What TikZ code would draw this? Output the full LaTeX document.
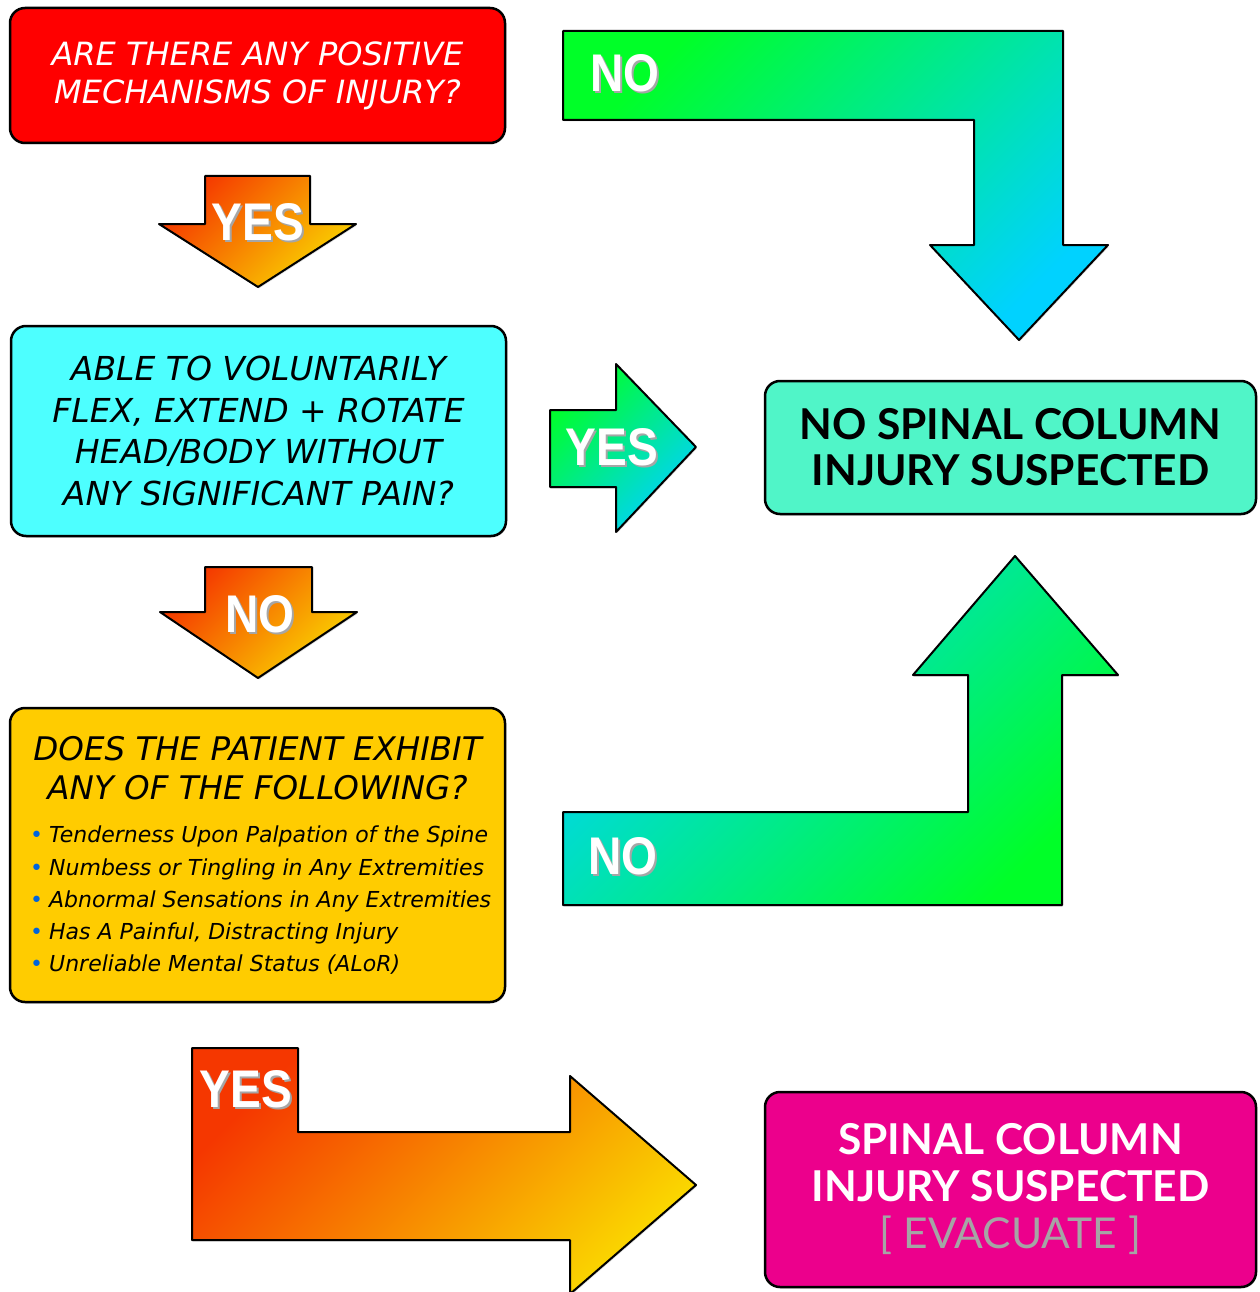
\documentclass[tikz,border=0pt]{standalone}
\usepackage{fontspec}
\usepackage{graphicx}
\setmainfont{DejaVu Sans}
\newfontfamily\outfont{Lato}
\newfontfamily\labelfont{Liberation Sans}
\usetikzlibrary{shadows}

\definecolor{boxred}{RGB}{255,0,0}
\definecolor{boxcyan}{RGB}{77,255,255}
\definecolor{boxyellow}{RGB}{255,204,0}
\definecolor{boxteal}{RGB}{80,245,200}
\definecolor{boxpink}{RGB}{236,0,140}
\definecolor{hotorange}{RGB}{245,55,0}
\definecolor{warmyellow}{RGB}{250,215,0}
\definecolor{brightgreen}{RGB}{0,255,40}
\definecolor{skycyan}{RGB}{0,210,255}
\definecolor{dotblue}{RGB}{0,100,220}
\definecolor{evacgray}{RGB}{165,165,165}

\newcommand{\arrowword}[1]{\scalebox{0.87}[1]{\labelfont\bfseries\fontsize{53}{53}\selectfont
  \makebox[0pt][l]{\kern2pt\raisebox{-2pt}{\color{black!35}#1}}#1}}
\newcommand{\bul}{\textcolor{dotblue}{\textbullet}\hspace{6pt}}

\tikzset{
  qbox/.style={draw=black, line width=2.5pt, rounded corners=15pt, inner sep=0pt,
    drop shadow={opacity=0.25,shadow xshift=1pt,shadow yshift=-1.5pt}},
  blockarrow/.style={draw=black, line width=2pt, line join=round,
    drop shadow={opacity=0.25,shadow xshift=1pt,shadow yshift=-1.5pt}},
  hotarrow/.style={blockarrow, top color=hotorange, bottom color=warmyellow, shading angle=45},
  coolarrow/.style={blockarrow, top color=brightgreen, bottom color=skycyan, shading angle=45},
  backarrow/.style={blockarrow, top color=skycyan, bottom color=brightgreen, shading angle=45},
  arrowlabel/.style={text=white, inner sep=0pt}
}

\begin{document}
\begin{tikzpicture}[x=1pt,y=-1pt]
\useasboundingbox (0,0) rectangle (1259,1292);
\clip (0,0) rectangle (1259,1292);

% question boxes
\node[qbox, fill=boxred, text=white, minimum width=495pt, minimum height=135pt, align=center,
  font=\itshape\fontsize{32}{38}\selectfont] (mech) at (257.5,75.5)
  {ARE THERE ANY POSITIVE\\MECHANISMS OF INJURY?};
\node[qbox, fill=boxcyan, minimum width=495pt, minimum height=210pt, align=center,
  font=\itshape\fontsize{33}{41.5}\selectfont] (flex) at (258.5,431)
  {ABLE TO VOLUNTARILY\\FLEX, EXTEND + ROTATE\\HEAD/BODY WITHOUT\\ANY SIGNIFICANT PAIN?};
\node[qbox, fill=boxyellow, minimum width=495pt, minimum height=294pt] (signs) at (257.5,855) {};
\node[align=center, font=\itshape\fontsize{32.5}{39}\selectfont] (signshead) at (257.5,768.5)
  {DOES THE PATIENT EXHIBIT\\ANY OF THE FOLLOWING?};
\node[anchor=west, align=left, inner sep=0pt, font=\itshape\fontsize{22}{32.25}\selectfont]
  (signslist) at (30,900.5)
  {\bul Tenderness Upon Palpation of the Spine\\
   \bul Numbess or Tingling in Any Extremities\\
   \bul Abnormal Sensations in Any Extremities\\
   \bul Has A Painful, Distracting Injury\\
   \bul Unreliable Mental Status (ALoR)};

% outcome boxes
\node[qbox, fill=boxteal, minimum width=491pt, minimum height=133pt, align=center,
  font=\outfont\bfseries\fontsize{42.5}{46}\selectfont] (clear) at (1010.5,447.5)
  {NO SPINAL COLUMN\\INJURY SUSPECTED};
\node[qbox, fill=boxpink, text=white, minimum width=491pt, minimum height=195pt, align=center,
  font=\outfont\bfseries\fontsize{42.5}{47}\selectfont] (injury) at (1010.5,1189.5)
  {SPINAL COLUMN\\INJURY SUSPECTED\\{\mdseries\color{evacgray}[ EVACUATE ]}};

% block arrows
\draw[hotarrow] (205,176) -- (310,176) -- (310,224) -- (356,224) -- (258,287)
  -- (159,224) -- (205,224) -- cycle;
\node[arrowlabel] (yesone) at (258,223) {\arrowword{YES}};

\draw[hotarrow] (205,567) -- (312,567) -- (312,612) -- (357,612) -- (258,678)
  -- (160,612) -- (205,612) -- cycle;
\node[arrowlabel] (noone) at (260,615) {\arrowword{NO}};

\draw[coolarrow] (550,410) -- (616,410) -- (616,364) -- (696,447) -- (616,532)
  -- (616,487) -- (550,487) -- cycle;
\node[arrowlabel] (yestwo) at (612,448) {\arrowword{YES}};

\draw[coolarrow] (563,31) -- (1063,31) -- (1063,245) -- (1108,245) -- (1019,340)
  -- (930,245) -- (974,245) -- (974,120) -- (563,120) -- cycle;
\node[arrowlabel] (notwo) at (625,74) {\arrowword{NO}};

\draw[backarrow] (563,905) -- (1062,905) -- (1062,675) -- (1118,675) -- (1015,556)
  -- (913,675) -- (968,675) -- (968,812) -- (563,812) -- cycle;
\node[arrowlabel] (nothree) at (623,857) {\arrowword{NO}};

\draw[hotarrow] (192,1048) -- (298,1048) -- (298,1132) -- (570,1132) -- (570,1076)
  -- (696,1185) -- (570,1294) -- (570,1240) -- (192,1240) -- cycle;
\node[arrowlabel] (yesthree) at (246,1090) {\arrowword{YES}};
\end{tikzpicture}
\end{document}
